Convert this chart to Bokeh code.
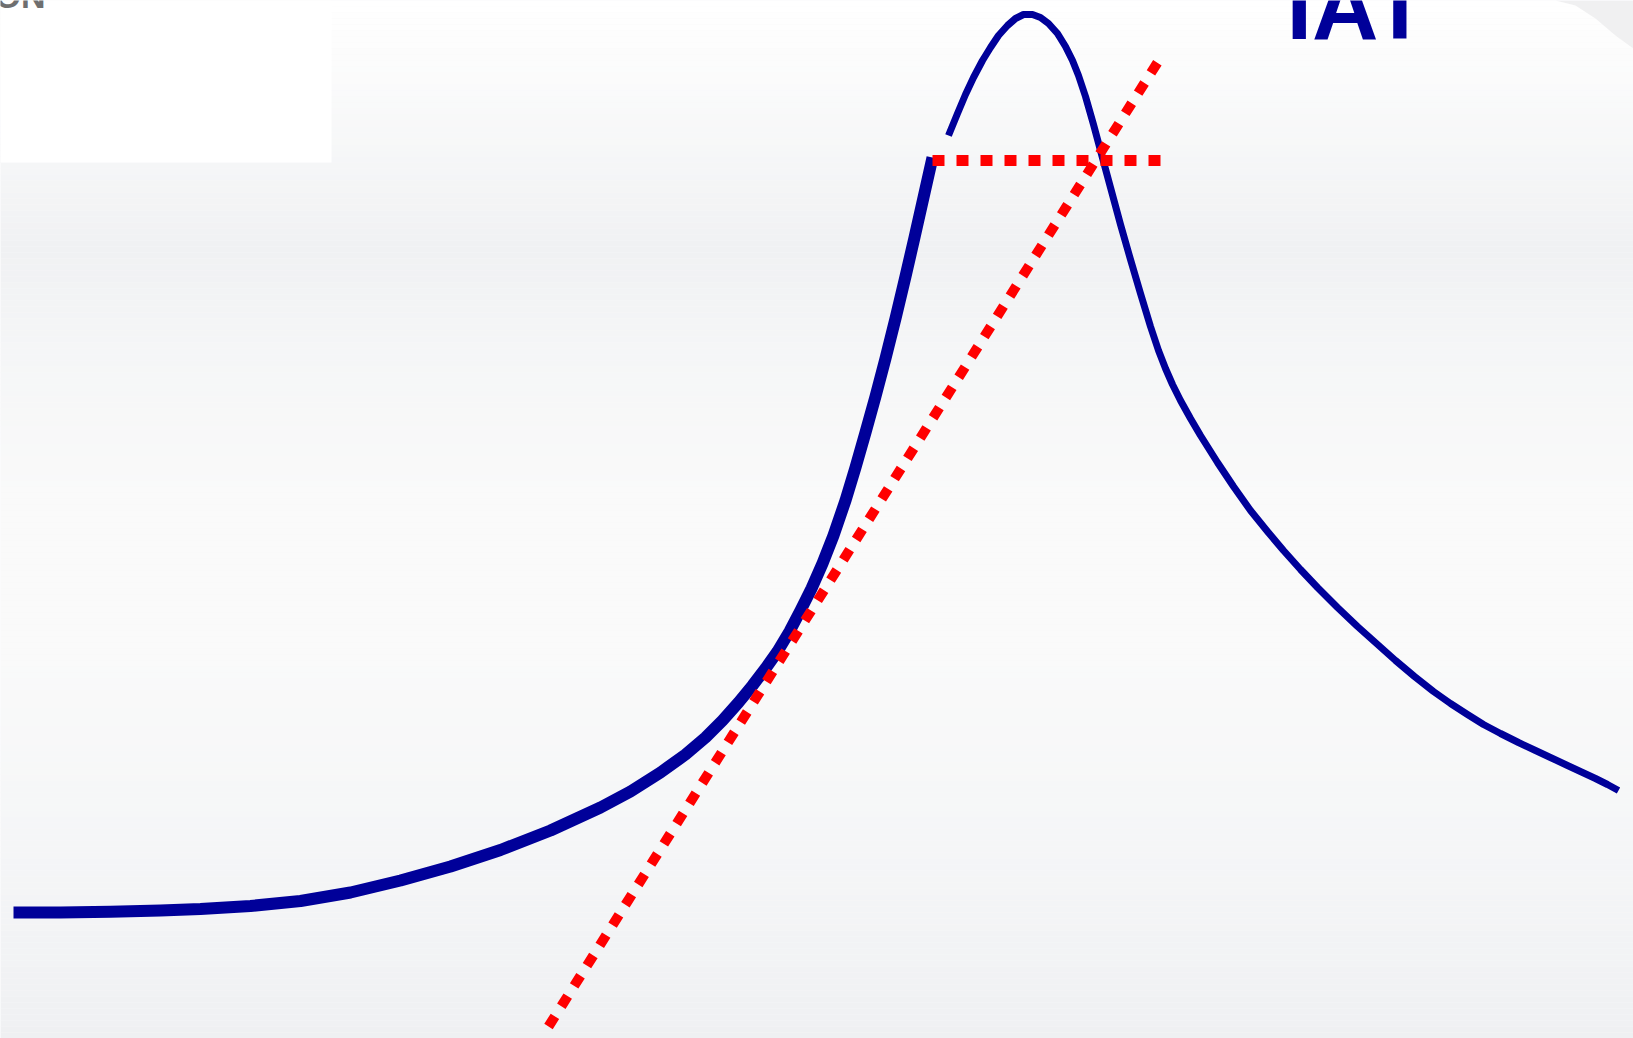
import numpy as np
from bokeh.plotting import figure
from bokeh.models import Range1d
from bokeh.core.properties import value
from bokeh.embed import file_html
from bokeh.resources import INLINE

# ---- data (x = workload units, y = level, y axis drawn downward-positive) ----
thick_x = [13, 60, 110, 160, 200, 250, 300, 350, 400, 450, 500, 550, 600, 630, 660, 685, 705,
           722, 738, 752, 765, 777, 789, 800, 811, 822, 833, 845, 855, 865, 875, 885, 895,
           905, 914, 923, 932]
thick_y = [912, 912, 911.3, 910, 908.5, 905.5, 900.5, 892, 880, 866, 849.5, 830, 807, 791, 772,
           754, 737, 720, 702, 685, 668, 651, 631, 610, 588, 563, 535, 500, 467, 432, 396,
           358, 318, 276, 237, 197, 157]

thin_x = [948, 957, 965, 973, 982, 990, 998, 1007, 1015, 1023, 1032, 1040, 1048, 1057, 1065,
          1072, 1078, 1085, 1093, 1100, 1110, 1120, 1130, 1140, 1150, 1158, 1165, 1172, 1180,
          1190, 1200, 1217, 1233, 1250, 1267, 1283, 1300, 1317, 1337, 1357, 1376, 1395, 1414,
          1433, 1450, 1467, 1483, 1500, 1518, 1535, 1551, 1567, 1581, 1595, 1607, 1618]
thin_y = [135, 113, 94, 77, 60, 47, 35, 25, 18, 14, 14, 17, 23, 33, 46,
          60, 75, 96, 124, 150, 187, 224, 259, 293, 326, 350, 368, 384, 400,
          418, 435, 462, 486, 510, 531, 550, 569, 587, 607, 626, 643, 660, 676,
          691, 703, 714, 724, 733, 742, 750, 757.5, 765, 771.5, 778, 784, 790]

tangent_x = [548, 1157]
tangent_y = [1026, 62]

threshold_x = [932, 1160]
threshold_y = [160, 160]

label_text = "IAT"
corner_text = "ON"

W, H = 1633, 1038
p = figure(width=W, height=H, output_backend="svg", toolbar_location=None,
           x_range=Range1d(0, W), y_range=Range1d(H, 0),
           min_border=0, outline_line_color=None, background_fill_color="#f8f8f9",
           border_fill_color="#ffffff")
p.axis.visible = False
p.grid.visible = False

# background vertical gradient (decoration)
stops_y = [0, 60, 150, 250, 350, 500, 650, 800, 950, 1038]
stops_c = ["#ffffff", "#fcfcfc", "#f6f7f8", "#f0f1f3", "#f5f6f7", "#fafafa", "#fafafa",
           "#f6f7f8", "#f2f3f5", "#eff0f2"]
def hex2rgb(h):
    return [int(h[i:i+2], 16) for i in (1, 3, 5)]
rgb = np.array([hex2rgb(c) for c in stops_c], dtype=float)
edges = np.arange(0, H + 6, 6)
tops = edges[:-1]
bots = edges[1:]
mids = (tops + bots) / 2
cols = []
for m in mids:
    r = np.interp(m, stops_y, rgb[:, 0]); g = np.interp(m, stops_y, rgb[:, 1]); b = np.interp(m, stops_y, rgb[:, 2])
    cols.append("#%02x%02x%02x" % (int(round(r)), int(round(g)), int(round(b))))
p.quad(left=0, right=W, top=list(tops), bottom=list(bots), fill_color=cols, line_color=None)

# top-left white box and top-right corner shading
p.quad(left=0, right=331, top=0, bottom=162, fill_color="#ffffff", line_color=None)
p.patch([1555, 1633, 1633, 1615, 1595, 1575], [0, 0, 48, 35, 18, 5],
        fill_color="#ececee", line_color=None, fill_alpha=0.8)

p.text(x=[45], y=[-5], text=[corner_text], text_font=value("Liberation Sans"), text_font_style="bold",
       text_font_size="34px", text_color="#6f6f6f", text_align="right", text_baseline="alphabetic")

# curves
p.line(thick_x, thick_y, line_color="#000099", line_width=12, line_cap="butt", line_join="round")
p.line(thin_x, thin_y, line_color="#000099", line_width=7, line_cap="butt", line_join="round")

# red dotted lines
p.line(tangent_x, tangent_y, line_color="#ff0000", line_width=10, line_dash="12 12", line_cap="butt")
p.line(threshold_x, threshold_y, line_color="#ff0000", line_width=11, line_dash="12 12", line_cap="butt")

p.text(x=[1286], y=[6], text=[label_text], text_font=value("Liberation Sans"), text_font_style="bold",
       text_font_size="92px", text_color="#000099", text_align="left", text_baseline="alphabetic")

open("out.html", "w").write(file_html(p, INLINE))
